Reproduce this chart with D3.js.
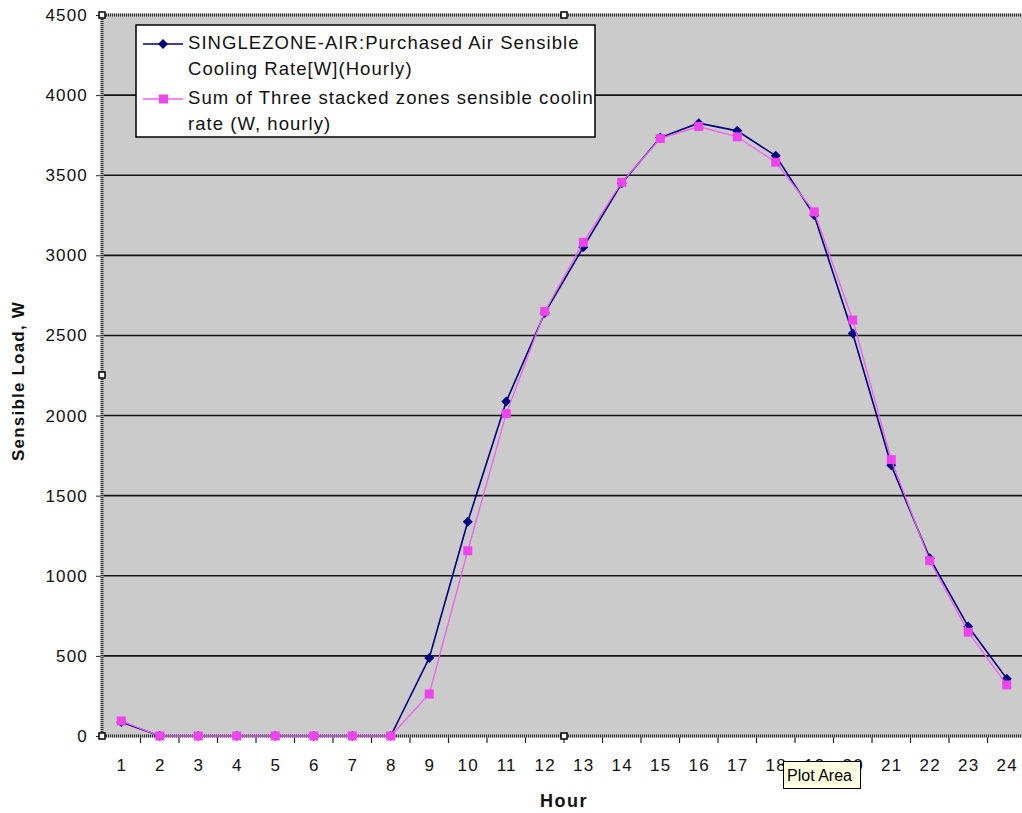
<!DOCTYPE html>
<html>
<head>
<meta charset="utf-8">
<script src="https://cdn.jsdelivr.net/npm/d3@7"></script>
<style>
  html, body { margin: 0; padding: 0; background: #fff; }
  svg { display: block; font-family: "Liberation Sans", Arial, sans-serif; }
</style>
</head>
<body>
<svg id="chart" width="1022" height="813"></svg>
<script>
// Hourly sensible cooling loads
const hours = d3.range(1, 25);
const singleZone = [88, 0, 0, 0, 0, 0, 0, 0, 487, 1337, 2087, 2640, 3050, 3450, 3735, 3825, 3777, 3621, 3250, 2512, 1690, 1110, 683, 358];
const stackedSum = [94, 0, 0, 0, 0, 0, 0, 0, 262, 1156, 2012, 2650, 3081, 3456, 3729, 3804, 3740, 3581, 3271, 2596, 1725, 1094, 648, 319];
const yTicks = [0, 500, 1000, 1500, 2000, 2500, 3000, 3500, 4000, 4500];
const seriesNames = [
  ["SINGLEZONE-AIR:Purchased Air Sensible", "Cooling Rate[W](Hourly)"],
  ["Sum of Three stacked zones sensible cooling", "rate (W, hourly)"]
];

const svg = d3.select("#chart");
const plotL = 102, plotT = 15, plotB = 736, plotR = 102 + 24 * 38.5;

const x = d3.scalePoint().domain(hours).range([plotL, plotR]).padding(0.5);
const y = d3.scaleLinear().domain([0, 4500]).range([plotB, plotT]);

// plot area background
svg.append("rect")
  .attr("x", plotL).attr("y", plotT)
  .attr("width", plotR - plotL).attr("height", plotB - plotT)
  .attr("fill", "#cbcbcb");

// horizontal gridlines
svg.append("g").selectAll("line")
  .data(yTicks.filter(v => v > 0 && v < 4500))
  .join("line")
  .attr("x1", plotL).attr("x2", plotR)
  .attr("y1", d => y(d)).attr("y2", d => y(d))
  .attr("stroke", "#161616").attr("stroke-width", 1.6);

// y axis
const yAxis = d3.axisLeft(y).tickValues(yTicks).tickSize(6).tickPadding(8).tickFormat(d3.format("d"));
const gy = svg.append("g").attr("transform", `translate(${plotL},0)`).call(yAxis);
gy.select(".domain").remove();
gy.selectAll(".tick line").attr("stroke", "#222");
gy.selectAll(".tick text")
  .attr("font-size", 17).attr("fill", "#111").attr("letter-spacing", 1.2)
  .attr("font-family", "'Liberation Sans', Arial, sans-serif");

// x axis: labels at category centres, ticks between categories
const gx = svg.append("g").attr("transform", `translate(0,${plotB})`)
  .call(d3.axisBottom(x).tickSize(0).tickPadding(23));
gx.select(".domain").remove();
gx.selectAll(".tick text")
  .attr("font-size", 17).attr("fill", "#111").attr("letter-spacing", 1.2)
  .attr("font-family", "'Liberation Sans', Arial, sans-serif");
const step = x.step();
svg.append("g").selectAll("line")
  .data(hours.slice(1))
  .join("line")
  .attr("x1", d => x(d) - step / 2).attr("x2", d => x(d) - step / 2)
  .attr("y1", plotB).attr("y2", plotB + 7)
  .attr("stroke", "#222").attr("stroke-width", 1.2);

// selected plot-area outline (hatched)
const outline = svg.append("g");
[[plotL, plotT, plotR, plotT], [plotL, plotT, plotL, plotB], [plotL, plotB, plotR, plotB]].forEach(([a, b, c, d]) => {
  outline.append("line").attr("x1", a).attr("y1", b).attr("x2", c).attr("y2", d)
    .attr("stroke", "#b8b8b8").attr("stroke-width", 3);
  outline.append("line").attr("x1", a).attr("y1", b).attr("x2", c).attr("y2", d)
    .attr("stroke", "#333").attr("stroke-width", 3).attr("stroke-dasharray", "1,1");
});

// series
const diamond = d3.symbol(d3.symbolSquare, 50);
const line = d3.line().x((d, i) => x(hours[i])).y(d => y(d));
svg.append("path").datum(singleZone)
  .attr("d", line).attr("fill", "none")
  .attr("stroke", "#000080").attr("stroke-width", 1.6);
svg.append("g").selectAll("path")
  .data(singleZone)
  .join("path")
  .attr("d", diamond)
  .attr("transform", (d, i) => `translate(${x(hours[i])},${y(d)}) rotate(45)`)
  .attr("fill", "#000080");

svg.append("path").datum(stackedSum)
  .attr("d", line).attr("fill", "none")
  .attr("stroke", "#f060f0").attr("stroke-width", 1.3);
svg.append("g").selectAll("rect")
  .data(stackedSum)
  .join("rect")
  .attr("x", (d, i) => x(hours[i]) - 4.5).attr("y", d => y(d) - 4.5)
  .attr("width", 9).attr("height", 9)
  .attr("fill", "#ee44ee");

// selection handles
svg.append("g").selectAll("rect")
  .data([[plotL, plotT], [564, plotT], [plotL, 375], [plotL, plotB], [564, plotB]])
  .join("rect")
  .attr("x", d => d[0] - 3).attr("y", d => d[1] - 3)
  .attr("width", 6).attr("height", 6)
  .attr("fill", "#fff").attr("stroke", "#000").attr("stroke-width", 1.5);

// legend
const lx = 136, ly = 25, lw = 459, lh = 112;
svg.append("clipPath").attr("id", "legclip")
  .append("rect").attr("x", lx).attr("y", ly).attr("width", lw).attr("height", lh);
const leg = svg.append("g");
leg.append("rect").attr("x", lx).attr("y", ly).attr("width", lw).attr("height", lh)
  .attr("fill", "#fff").attr("stroke", "#000").attr("stroke-width", 1.5);
const legItems = [
  { color: "#000080", y: 44, marker: "diamond" },
  { color: "#f060f0", y: 99, marker: "square" }
];
const legText = leg.append("g").attr("clip-path", "url(#legclip)");
legItems.forEach((it, i) => {
  leg.append("line").attr("x1", 143).attr("x2", 183).attr("y1", it.y).attr("y2", it.y)
    .attr("stroke", it.color).attr("stroke-width", 1.5);
  if (it.marker === "diamond") {
    leg.append("path").attr("d", diamond)
      .attr("transform", `translate(163,${it.y}) rotate(45)`).attr("fill", it.color);
  } else {
    leg.append("rect").attr("x", 159).attr("y", it.y - 4.5).attr("width", 9).attr("height", 9)
      .attr("fill", "#ee44ee");
  }
  seriesNames[i].forEach((t, j) => {
    legText.append("text").attr("x", 188).attr("y", it.y + 5 + j * 25.5)
      .attr("font-size", 18.5).attr("fill", "#111").attr("letter-spacing", 1.05).text(t);
  });
});

// axis titles
svg.append("text").attr("x", 564).attr("y", 807)
  .attr("text-anchor", "middle").attr("font-size", 18).attr("font-weight", "bold")
  .attr("letter-spacing", 1.5).attr("fill", "#111").text("Hour");
svg.append("text").attr("transform", "translate(24,381) rotate(-90)")
  .attr("text-anchor", "middle").attr("font-size", 17).attr("font-weight", "bold")
  .attr("letter-spacing", 1.2).attr("fill", "#111").text("Sensible Load, W");

// hover tooltip box
const tip = svg.append("g").attr("transform", "translate(783,761)");
tip.append("rect").attr("x", 0.5).attr("y", 0.5).attr("width", 77).attr("height", 27)
  .attr("fill", "#ffffe1").attr("stroke", "#000").attr("stroke-width", 1);
tip.append("text").attr("x", 4).attr("y", 20).attr("font-size", 16).attr("fill", "#000").text("Plot Area");
</script>
</body>
</html>
